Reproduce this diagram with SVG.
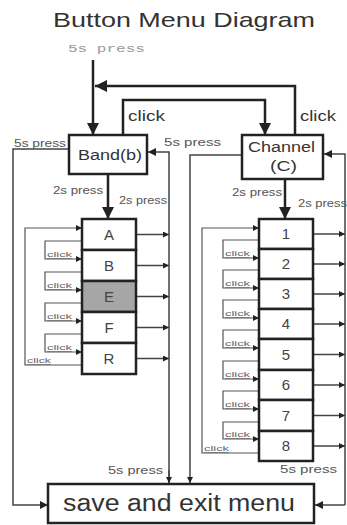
<svg xmlns="http://www.w3.org/2000/svg" width="347" height="525" viewBox="0 0 347 525">
<style>
text{font-family:"Liberation Sans",Arial,sans-serif;fill:#333}
.box{fill:#fff;stroke:#222;stroke-width:2.5}
.main{fill:none;stroke:#222;stroke-width:2.5}
.thin{fill:none;stroke:#444;stroke-width:1.5}
.loop{fill:none;stroke:#555;stroke-width:1.2}
.lbl{font-size:10px;fill:#555}
.clk{font-size:7px;fill:#666;text-decoration:underline}
.cell{font-size:15px;fill:#444;text-anchor:middle}
</style>
<defs>
<marker id="big" viewBox="0 0 10 10" refX="10" refY="5" markerWidth="12" markerHeight="12" markerUnits="userSpaceOnUse" orient="auto"><path d="M0,0 L10,5 L0,10 z" fill="#222"/></marker>
<marker id="mid" viewBox="0 0 10 10" refX="10" refY="5" markerWidth="8" markerHeight="8" markerUnits="userSpaceOnUse" orient="auto"><path d="M0,0 L10,5 L0,10 z" fill="#222"/></marker>
<marker id="sm" viewBox="0 0 10 10" refX="10" refY="5" markerWidth="6" markerHeight="6" markerUnits="userSpaceOnUse" orient="auto"><path d="M0,0 L10,5 L0,10 z" fill="#222"/></marker>
</defs>

<text x="53" y="27" font-size="21" textLength="262" lengthAdjust="spacingAndGlyphs" fill="#333">Button Menu Diagram</text>
<text x="68" y="52" font-size="11" textLength="77" lengthAdjust="spacingAndGlyphs" style="font-family:'Liberation Mono',monospace;fill:#999">5s press</text>

<g id="connectors">
  <path class="main" d="M93,60 V135" marker-end="url(#big)"/>
  <path class="main" d="M295,135 V86 H95" marker-end="url(#big)"/>
  <path class="main" d="M123,135 V100 H265 V135" marker-end="url(#big)"/>
  <path class="main" d="M108,174 V219" marker-end="url(#big)"/>
  <path class="main" d="M285,179 V219" marker-end="url(#big)"/>
  <path class="thin" d="M69,149 H13 V505 H48" marker-end="url(#mid)"/>
  <path class="thin" d="M169,483 V152 H148" marker-end="url(#mid)"/>
  <path class="thin" d="M169,470 V483" marker-end="url(#sm)"/>
  <path class="thin" d="M242,155 H190 V483" marker-end="url(#sm)"/>
  <path class="thin" d="M345,505 V154 H324" marker-end="url(#mid)"/>
  <path class="thin" d="M345,505 H315" marker-end="url(#mid)"/>
  <!-- left column outputs -->
  <path class="thin" d="M136,234.5 H169" marker-end="url(#sm)"/>
  <path class="thin" d="M136,265.5 H169" marker-end="url(#sm)"/>
  <path class="thin" d="M136,296.5 H169" marker-end="url(#sm)"/>
  <path class="thin" d="M136,327.5 H169" marker-end="url(#sm)"/>
  <path class="thin" d="M136,358.5 H169" marker-end="url(#sm)"/>
  <!-- right column outputs -->
  <path class="thin" d="M313,234 H345" marker-end="url(#sm)"/>
  <path class="thin" d="M313,264 H345" marker-end="url(#sm)"/>
  <path class="thin" d="M313,294 H345" marker-end="url(#sm)"/>
  <path class="thin" d="M313,324 H345" marker-end="url(#sm)"/>
  <path class="thin" d="M313,354.5 H345" marker-end="url(#sm)"/>
  <path class="thin" d="M313,385 H345" marker-end="url(#sm)"/>
  <path class="thin" d="M313,415.5 H345" marker-end="url(#sm)"/>
  <path class="thin" d="M313,446 H345" marker-end="url(#sm)"/>
  <!-- left column loops -->
  <path class="loop" d="M82,365 H25 V228 H82" marker-end="url(#sm)"/>
  <path class="loop" d="M82,241 H45 V259 H82" marker-end="url(#sm)"/>
  <path class="loop" d="M82,272 H45 V290 H82" marker-end="url(#sm)"/>
  <path class="loop" d="M82,303 H45 V321 H82" marker-end="url(#sm)"/>
  <path class="loop" d="M82,334 H45 V352 H82" marker-end="url(#sm)"/>
  <!-- right column loops -->
  <path class="loop" d="M259,453 H202 V228 H259" marker-end="url(#sm)"/>
  <path class="loop" d="M259,240 H223 V258 H259" marker-end="url(#sm)"/>
  <path class="loop" d="M259,270 H223 V288 H259" marker-end="url(#sm)"/>
  <path class="loop" d="M259,300 H223 V318 H259" marker-end="url(#sm)"/>
  <path class="loop" d="M259,330 H223 V348 H259" marker-end="url(#sm)"/>
  <path class="loop" d="M259,361 H223 V379 H259" marker-end="url(#sm)"/>
  <path class="loop" d="M259,391 H223 V409 H259" marker-end="url(#sm)"/>
  <path class="loop" d="M259,422 H223 V439 H259" marker-end="url(#sm)"/>
</g>

<g id="labels">
  <text x="128" y="121" font-size="14" textLength="37" lengthAdjust="spacingAndGlyphs" fill="#444">click</text>
  <text x="300" y="121" font-size="14" textLength="36" lengthAdjust="spacingAndGlyphs" fill="#444">click</text>
  <text class="lbl" x="14" y="147" textLength="52" lengthAdjust="spacingAndGlyphs">5s press</text>
  <text class="lbl" x="164" y="146" textLength="57" lengthAdjust="spacingAndGlyphs">5s press</text>
  <text class="lbl" x="53" y="194" textLength="50" lengthAdjust="spacingAndGlyphs">2s press</text>
  <text class="lbl" x="119" y="204" textLength="48" lengthAdjust="spacingAndGlyphs">2s press</text>
  <text class="lbl" x="232" y="196" textLength="50" lengthAdjust="spacingAndGlyphs">2s press</text>
  <text class="lbl" x="298" y="207" textLength="49" lengthAdjust="spacingAndGlyphs">2s press</text>
  <text class="lbl" x="108" y="474" textLength="55" lengthAdjust="spacingAndGlyphs">5s press</text>
  <text class="lbl" x="280" y="473" textLength="57" lengthAdjust="spacingAndGlyphs">5s press</text>
  <text class="clk" x="47" y="257" textLength="25" lengthAdjust="spacingAndGlyphs">click</text>
  <text class="clk" x="47" y="288" textLength="25" lengthAdjust="spacingAndGlyphs">click</text>
  <text class="clk" x="47" y="319" textLength="25" lengthAdjust="spacingAndGlyphs">click</text>
  <text class="clk" x="47" y="350" textLength="25" lengthAdjust="spacingAndGlyphs">click</text>
  <text class="clk" x="27" y="363" textLength="24" lengthAdjust="spacingAndGlyphs">click</text>
  <text class="clk" x="225" y="256" textLength="25" lengthAdjust="spacingAndGlyphs">click</text>
  <text class="clk" x="225" y="286" textLength="25" lengthAdjust="spacingAndGlyphs">click</text>
  <text class="clk" x="225" y="316" textLength="25" lengthAdjust="spacingAndGlyphs">click</text>
  <text class="clk" x="225" y="346" textLength="25" lengthAdjust="spacingAndGlyphs">click</text>
  <text class="clk" x="225" y="377" textLength="25" lengthAdjust="spacingAndGlyphs">click</text>
  <text class="clk" x="225" y="407" textLength="25" lengthAdjust="spacingAndGlyphs">click</text>
  <text class="clk" x="225" y="437" textLength="25" lengthAdjust="spacingAndGlyphs">click</text>
  <text class="clk" x="204" y="451" textLength="25" lengthAdjust="spacingAndGlyphs">click</text>
</g>

<g id="band">
  <rect class="box" x="69" y="135" width="78" height="39"/>
  <text x="78" y="160" font-size="14" textLength="64" lengthAdjust="spacingAndGlyphs" fill="#444">Band(b)</text>
</g>
<g id="channel">
  <rect class="box" x="242" y="135" width="81" height="44"/>
  <text x="248" y="152" font-size="14" textLength="67" lengthAdjust="spacingAndGlyphs" fill="#444">Channel</text>
  <text x="270" y="171" font-size="14" textLength="27" lengthAdjust="spacingAndGlyphs" fill="#444">(C)</text>
</g>

<g id="cell-A"><rect class="box" x="82" y="219" width="54" height="31"/><text class="cell" x="109" y="240">A</text></g>
<g id="cell-B"><rect class="box" x="82" y="250" width="54" height="31"/><text class="cell" x="109" y="271">B</text></g>
<g id="cell-E"><rect class="box" x="82" y="281" width="54" height="31" style="fill:#a6a6a6"/><text class="cell" x="109" y="302">E</text></g>
<g id="cell-F"><rect class="box" x="82" y="312" width="54" height="31"/><text class="cell" x="109" y="333">F</text></g>
<g id="cell-R"><rect class="box" x="82" y="343" width="54" height="31"/><text class="cell" x="109" y="364">R</text></g>

<g id="cell-1"><rect class="box" x="259" y="219" width="54" height="30"/><text class="cell" x="286" y="239">1</text></g>
<g id="cell-2"><rect class="box" x="259" y="249" width="54" height="30"/><text class="cell" x="286" y="269">2</text></g>
<g id="cell-3"><rect class="box" x="259" y="279" width="54" height="30"/><text class="cell" x="286" y="299">3</text></g>
<g id="cell-4"><rect class="box" x="259" y="309" width="54" height="30"/><text class="cell" x="286" y="329">4</text></g>
<g id="cell-5"><rect class="box" x="259" y="339" width="54" height="31"/><text class="cell" x="286" y="360">5</text></g>
<g id="cell-6"><rect class="box" x="259" y="370" width="54" height="30"/><text class="cell" x="286" y="390">6</text></g>
<g id="cell-7"><rect class="box" x="259" y="400" width="54" height="31"/><text class="cell" x="286" y="421">7</text></g>
<g id="cell-8"><rect class="box" x="259" y="431" width="54" height="30"/><text class="cell" x="286" y="451">8</text></g>

<g id="save">
  <rect class="box" x="48" y="484" width="266" height="39"/>
  <text x="63" y="511" font-size="23" textLength="232" lengthAdjust="spacingAndGlyphs" fill="#333">save and exit menu</text>
</g>
</svg>
